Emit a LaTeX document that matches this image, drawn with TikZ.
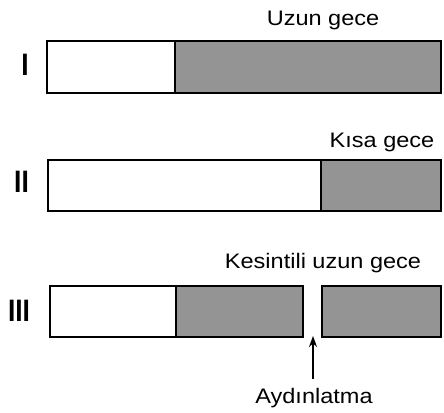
\documentclass[tikz,border=0pt]{standalone}
\usepackage{fontspec}
\setmainfont{Liberation Sans}
\usetikzlibrary{arrows.meta}
\tikzset{
  barbox/.style={draw=black, line width=2.6pt, fill=white},
  nightbox/.style={draw=black, line width=2.6pt, fill=black!42},
  lbl/.style={inner sep=0pt, anchor=base, font=\fontsize{21}{24}\selectfont},
  numlbl/.style={inner sep=0pt, anchor=base, font=\fontsize{31}{34}\selectfont\bfseries},
  lightarrow/.style={line width=1.5pt, -{Stealth[length=11pt,width=8pt]}}
}
\newcommand{\wide}[1]{\scalebox{1.12}[1]{#1}}
\newcommand{\narrow}[1]{\scalebox{0.85}[1]{#1}}
\begin{document}
\begin{tikzpicture}[x=1pt,y=-1pt]
\useasboundingbox (0,0) rectangle (444,412);
% Row I
\draw[nightbox] (175,41) rectangle (441,93);
\draw[barbox] (47,41) rectangle (175,93);
\node[numlbl] (n1) at (25,75) {\narrow{I}};
\node[lbl] (t1) at (323,26) {\wide{Uzun gece}};
% Row II
\draw[nightbox] (321,160) rectangle (441,211);
\draw[barbox] (48,160) rectangle (321,211);
\node[numlbl] (n2) at (21.5,192) {\narrow{II}};
\node[lbl] (t2) at (382,147) {\wide{Kısa gece}};
% Row III
\draw[nightbox] (176,286) rectangle (303,337);
\draw[barbox] (50,286) rectangle (176,337);
\draw[nightbox] (322,286) rectangle (441,337);
\node[numlbl] (n3) at (19,321) {\narrow{III}};
\node[lbl] (t3) at (323,268) {\wide{Kesintili uzun gece}};
\node[lbl] (t4) at (314,403) {\wide{Aydınlatma}};
\coordinate (tip) at (313,336);
\draw[lightarrow] (313,379) -- (tip);
\end{tikzpicture}
\end{document}
